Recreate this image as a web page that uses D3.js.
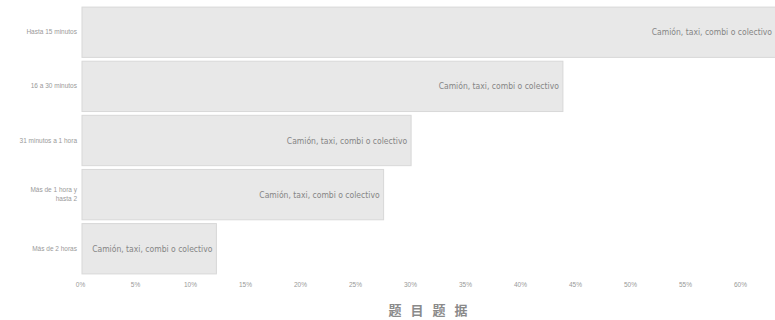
<!DOCTYPE html>
<html>
<head>
<meta charset="utf-8">
<script src="https://cdn.jsdelivr.net/npm/d3@7"></script>
<style>
  body { margin: 0; background: #fff; overflow: hidden; }
  svg { font-family: "Liberation Sans", Arial, sans-serif; }
</style>
</head>
<body>
<script>
// data
var categories = ["Hasta 15 minutos", "16 a 30 minutos", "31 minutos a 1 hora", "Más de 1 hora y hasta 2", "Más de 2 horas"];
var values = [64.5, 43.9, 30.1, 27.6, 12.4];
var seriesName = "Camión, taxi, combi o colectivo";
var tickValues = [0, 5, 10, 15, 20, 25, 30, 35, 40, 45, 50, 55, 60];
var legendText = ["题", "目", "题", "据"];

const w = 775,
      h = 320;

const svg = d3.select("body")
              .append("svg")
              .attr("width", w)
              .attr("height", h);

const xScale = d3.scaleLinear()
                 .domain([0, 60])
                 .range([80, 740]);

const yScale = d3.scaleBand()
                 .domain(categories)
                 .range([6, 275])
                 .paddingInner(0.07)
                 .paddingOuter(0.02);

svg.selectAll("rect.bar")
   .data(values)
   .enter()
   .append("rect")
   .attr("class", "bar")
   .attr("x", xScale(0) + 2)
   .attr("y", (d, i) => yScale(categories[i]))
   .attr("width", d => xScale(d) - xScale(0) - 2)
   .attr("height", yScale.bandwidth())
   .attr("fill", "#e8e8e8")
   .attr("stroke", "#d8d8d8")
   .attr("stroke-width", 1);

// the first bar runs past the window, so keep its label inside
svg.selectAll("text.val")
   .data(values)
   .enter()
   .append("text")
   .attr("class", "val")
   .attr("x", d => Math.min(xScale(d) - 4, w - 3))
   .attr("y", (d, i) => yScale(categories[i]) + yScale.bandwidth() / 2 + 3)
   .attr("text-anchor", "end")
   .attr("font-size", 8.5)
   .attr("font-family", "DejaVu Sans Condensed, Liberation Sans Narrow, sans-serif")
   .attr("fill", "#858585")
   .text(seriesName);

// category labels, wrapped like the original
var yLabels = svg.selectAll("text.cat")
   .data(categories)
   .enter()
   .append("text")
   .attr("class", "cat")
   .attr("text-anchor", "end")
   .attr("font-size", 6.5)
   .attr("fill", "#999");

yLabels.each(function(d) {
    var lines = d === "Más de 1 hora y hasta 2" ? ["Más de 1 hora y", "hasta 2"] : [d];
    var cy = yScale(d) + yScale.bandwidth() / 2;
    var t = d3.select(this);
    lines.forEach(function(l, k) {
        t.append("tspan")
         .attr("x", 77)
         .attr("y", cy + 2 + (k - (lines.length - 1) / 2) * 9)
         .text(l);
    });
});

var xAxis = svg.append("g")
   .attr("transform", "translate(0," + 279 + ")")
   .call(d3.axisBottom(xScale).tickValues(tickValues).tickFormat(d => d + "%").tickSize(0));

xAxis.select(".domain").remove();
xAxis.selectAll("text")
     .attr("font-size", 6.5)
     .attr("fill", "#999")
     .attr("font-family", "Liberation Sans, Arial, sans-serif");

var legend = svg.append("g")
                .attr("id", "legend");

legend.selectAll("text")
      .data(legendText)
      .enter()
      .append("text")
      .attr("x", (d, i) => 395 + i * 22)
      .attr("y", 315)
      .attr("text-anchor", "middle")
      .attr("font-size", 13)
      .attr("font-weight", "bold")
      .attr("font-family", "Noto Sans CJK SC")
      .attr("fill", "#8a8a8a")
      .text(d => d);
</script>
</body>
</html>
